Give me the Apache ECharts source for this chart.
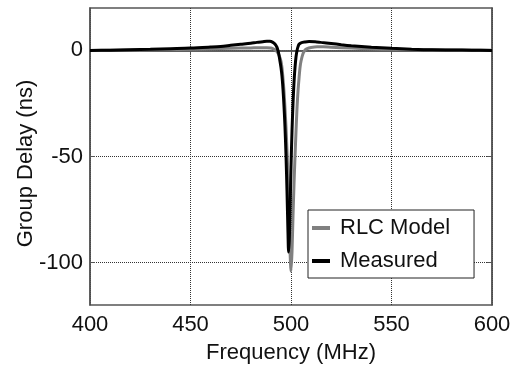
<!DOCTYPE html>
<html>
<head>
<meta charset="utf-8">
<script src="https://cdn.jsdelivr.net/npm/echarts@6/dist/echarts.min.js"></script>
<style>html,body{margin:0;padding:0;background:#fff;}#c{width:515px;height:366px;}</style>
</head>
<body>
<div id="c"></div>
<script>
var xTicks = [400, 450, 500, 550, 600];
var yTicks = [-100, -50, 0];

var rlcFreq = [400, 420, 440, 450, 460, 470, 480, 485, 488, 490, 491, 492, 493, 494, 495, 495.5, 496, 496.5, 497, 497.5, 498, 498.5, 499, 499.5, 500, 500.5, 501, 501.5, 502, 502.5, 503, 503.5, 504, 504.5, 505, 506, 507, 508, 510, 513, 516, 520, 530, 540, 550, 570, 600];
var rlcDelay = [0, 0.2, 0.4, 0.6, 0.8, 1.0, 1.2, 1.3, 1.3, 1.1, 0.8, 0.3, -0.6, -2.2, -5, -8, -13, -19, -27, -36, -47, -60, -76, -94, -104, -95, -78, -63, -50, -38, -27, -19, -13, -8, -5, -1.5, 0.2, 0.9, 1.4, 1.7, 1.7, 1.5, 1.1, 0.8, 0.5, 0.3, 0.1];

var measFreq = [400, 410, 420, 430, 440, 450, 460, 465, 470, 475, 480, 483, 486, 488, 489.5, 491, 492, 493, 493.5, 494, 494.5, 495, 495.5, 496, 496.5, 497, 497.5, 498, 498.5, 498.8, 499.2, 499.6, 500, 500.5, 501, 501.5, 502, 502.5, 503, 503.5, 504, 505, 507, 509, 512, 515, 520, 525, 530, 540, 550, 560, 570, 580, 590, 600];
var measDelay = [0, 0.1, 0.3, 0.5, 0.8, 1.1, 1.6, 1.9, 2.4, 2.9, 3.4, 3.8, 4.1, 4.3, 4.3, 3.8, 3.0, 1.5, 0, -2, -5, -8, -12, -18, -26, -36, -49, -66, -86, -95, -88, -72, -55, -38, -25, -15, -8, -3, 0, 1.8, 2.9, 3.6, 4.0, 4.2, 4.1, 3.8, 3.3, 2.7, 2.2, 1.5, 1.0, 0.6, 0.3, 0.2, 0.1, 0];

function pairs(xs, ys) { return xs.map(function (x, i) { return [x, ys[i]]; }); }

var FONT = 'Liberation Sans, Arial, Helvetica, sans-serif';
var chart = echarts.init(document.getElementById('c'), null, {renderer: 'canvas'});
chart.setOption({
  animation: false,
  backgroundColor: '#fff',
  grid: {left: 90, right: 23, top: 8, bottom: 61, show: true, borderColor: '#555', borderWidth: 1.5, backgroundColor: 'transparent',
    containLabel: false, outerBoundsMode: 'none'},
  legend: {
    left: 308, top: 210, orient: 'vertical',
    backgroundColor: '#fff', borderColor: '#222', borderWidth: 1,
    padding: [7, 24, 6, 4], itemGap: 11,
    itemWidth: 18, itemHeight: 4, icon: 'rect',
    textStyle: {fontFamily: FONT, fontSize: 22, color: '#111', padding: [0, 0, 0, 5]},
    data: ['RLC Model', 'Measured']
  },
  xAxis: [{
    type: 'value', min: 400, max: 600, interval: 50,
    name: 'Frequency (MHz)', nameLocation: 'middle', nameGap: 37, nameMoveOverlap: false,
    nameTextStyle: {fontFamily: FONT, fontSize: 22, color: '#111'},
    axisLine: {show: true, lineStyle: {color: '#555', width: 1.5}},
    axisTick: {show: true, inside: true, length: 5, lineStyle: {color: '#555'}},
    axisLabel: {fontFamily: FONT, fontSize: 22, color: '#111', margin: 9,
      customValues: xTicks},
    splitLine: {show: true, lineStyle: {type: 'dotted', color: '#333', width: 1}}
  }, {
    type: 'value', min: 400, max: 600, interval: 50, position: 'top',
    axisLine: {show: true, lineStyle: {color: '#555', width: 1.5}},
    axisTick: {show: true, inside: true, length: 5, lineStyle: {color: '#555'}},
    axisLabel: {show: false}, splitLine: {show: false}
  }],
  yAxis: [{
    type: 'value', min: -120, max: 20,
    name: 'Group Delay (ns)', nameLocation: 'middle', nameGap: 53, nameMoveOverlap: false,
    nameTextStyle: {fontFamily: FONT, fontSize: 22, color: '#111', padding: [0, 14, 0, 0]},
    axisLine: {show: true, lineStyle: {color: '#555', width: 1.5}},
    axisTick: {show: true, inside: true, length: 5, lineStyle: {color: '#555'}, customValues: yTicks},
    axisLabel: {fontFamily: FONT, fontSize: 22, color: '#111', margin: 7, customValues: yTicks},
    splitLine: {show: true, lineStyle: {type: 'dotted', color: '#333', width: 1}}
  }, {
    type: 'value', min: -120, max: 20, position: 'right',
    axisLine: {show: true, lineStyle: {color: '#555', width: 1.5}},
    axisTick: {show: true, inside: true, length: 5, lineStyle: {color: '#555'}, customValues: yTicks},
    axisLabel: {show: false}, splitLine: {show: false}
  }],
  series: [{
    name: 'RLC Model', type: 'line', showSymbol: false, symbol: 'none',
    data: pairs(rlcFreq, rlcDelay), smooth: 0.3,
    itemStyle: {color: '#808080'},
    lineStyle: {color: '#808080', width: 3}
  }, {
    name: 'Measured', type: 'line', showSymbol: false, symbol: 'none',
    data: pairs(measFreq, measDelay), smooth: 0.3,
    itemStyle: {color: '#000'},
    lineStyle: {color: '#000', width: 3}
  }]
});
</script>
</body>
</html>
